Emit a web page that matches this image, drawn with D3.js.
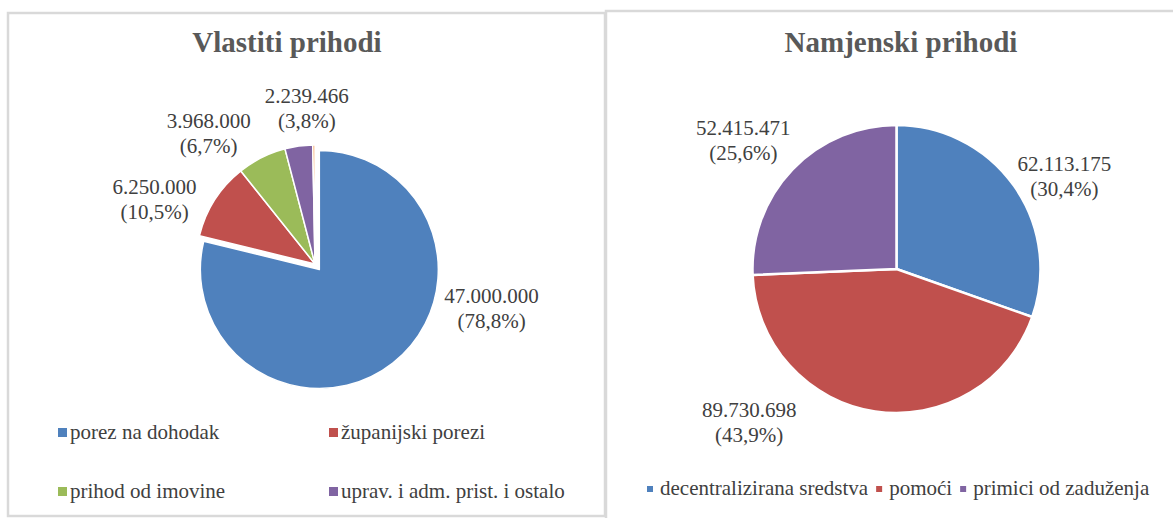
<!DOCTYPE html>
<html>
<head>
<meta charset="utf-8">
<script src="https://cdn.jsdelivr.net/npm/d3@7"></script>
</head>
<body style="margin:0">
<script>
var w = 1173;
var h = 518;
var serif = "Liberation Serif";
var baseSize = 18;          // text is set at 18px and scaled up
var textScale = 21 / 18;

// Vlastiti prihodi
var ownNames = ["porez na dohodak", "županijski porezi", "prihod od imovine", "uprav. i adm. prist. i ostalo", "ostalo"];
var ownValues = [47000000, 6250000, 3968000, 2239466, 180000];
var ownPct = ["78,8", "10,5", "6,7", "3,8", ""];

// Namjenski prihodi
var purposeNames = ["decentralizirana sredstva", "pomoći", "primici od zaduženja"];
var purposeValues = [62113175, 89730698, 52415471];
var purposePct = ["30,4", "43,9", "25,6"];

var ownColors = ["#4f81bd", "#c0504d", "#9bbb59", "#8064a2", "#f79646"];
var purposeColors = ["#4f81bd", "#c0504d", "#8064a2"];

// where Excel put the labels: [angle in degrees, distance from centre]
var ownLabelAt = [[104, 182], [292, 173], [321, 169], [357, 156]];
var purposeLabelAt = [[61, 192], [224, 212], [310, 200]];

var hr = d3.formatLocale({ decimal: ",", thousands: ".", grouping: [3], currency: ["", ""] });
var fmt = hr.format(",d");
var rad = Math.PI / 180;

var svg = d3.select("body")
  .append("svg")
  .attr("width", w)
  .attr("height", h);

// places a text at (x, y) in the parent, scaled from baseSize
function addText(parent, x, y, str, anchor) {
  var t = parent.append("g")
    .attr("transform", "translate(" + x + "," + y + ") scale(" + textScale + ")")
    .append("text")
    .attr("x", 0).attr("y", 0)
    .attr("text-anchor", anchor || "start")
    .attr("font-family", serif)
    .attr("font-size", baseSize)
    .attr("fill", "#404040")
    .text(str);
  return t.node().getComputedTextLength() * textScale;
}

// panel frames
svg.append("rect")
  .attr("x", 8).attr("y", 13)
  .attr("width", 597).attr("height", 503)
  .attr("fill", "none").attr("stroke", "#d9d9d9").attr("stroke-width", 2.5);
svg.append("rect")
  .attr("x", 606).attr("y", 11)
  .attr("width", 600).attr("height", 530)
  .attr("fill", "none").attr("stroke", "#d9d9d9").attr("stroke-width", 2.5);

function drawPie(opt) {
  var g = svg.append("g");

  g.append("text")
    .attr("x", opt.titleX)
    .attr("y", opt.titleY)
    .attr("text-anchor", "middle")
    .attr("font-family", serif)
    .attr("font-size", 29)
    .attr("font-weight", "bold")
    .attr("fill", "#595959")
    .text(opt.title);

  var pie = d3.pie().sort(null);
  var arcs = pie(opt.values);
  var arc = d3.arc().innerRadius(0).outerRadius(opt.r);

  var pg = g.append("g")
    .attr("transform", "translate(" + opt.cx + "," + opt.cy + ")");

  pg.selectAll("path")
    .data(arcs)
    .enter()
    .append("path")
    .attr("d", arc)
    .attr("fill", function(d, i) { return opt.colors[i]; })
    .attr("stroke", "#fff")
    .attr("stroke-width", opt.stroke)
    .attr("stroke-linejoin", "round")
    .attr("transform", function(d, i) {
      if (i !== opt.explode) return null;
      var p = d3.pointRadial((d.startAngle + d.endAngle) / 2, opt.explodeBy);
      return "translate(" + p[0] + "," + p[1] + ")";
    });

  // data labels, two lines each
  opt.labelAt.forEach(function(a, i) {
    var p = d3.pointRadial(a[0] * rad, a[1]);
    addText(pg, p[0], p[1] - 5, fmt(opt.values[i]), "middle");
    addText(pg, p[0], p[1] + 20, "(" + opt.pct[i] + "%)", "middle");
  });
  return g;
}

drawPie({
  title: "Vlastiti prihodi", titleX: 287, titleY: 52,
  values: ownValues, pct: ownPct, colors: ownColors,
  cx: 315, cy: 264, r: 119, explode: 0, explodeBy: 7, stroke: 1.5,
  labelAt: ownLabelAt
});

drawPie({
  title: "Namjenski prihodi", titleX: 901, titleY: 52,
  values: purposeValues, pct: purposePct, colors: purposeColors,
  cx: 896.5, cy: 269, r: 144, explode: -1, explodeBy: 0, stroke: 2.5,
  labelAt: purposeLabelAt
});

// left legend, 2 x 2 grid
ownNames.slice(0, 4).forEach(function(name, i) {
  var x = i % 2 === 0 ? 58 : 329;
  var y = i < 2 ? 433 : 492;
  svg.append("rect")
    .attr("x", x).attr("y", y - 5)
    .attr("width", 9).attr("height", 9)
    .attr("fill", ownColors[i]);
  addText(svg, x + 12, y + 6, name);
});

// right legend, one row
var lx = 647;
purposeNames.forEach(function(name, i) {
  svg.append("rect")
    .attr("x", lx).attr("y", 486)
    .attr("width", 6).attr("height", 6)
    .attr("fill", purposeColors[i]);
  var len = addText(svg, lx + 13, 495, name);
  lx += 13 + len + 8;
});
</script>
</body>
</html>
